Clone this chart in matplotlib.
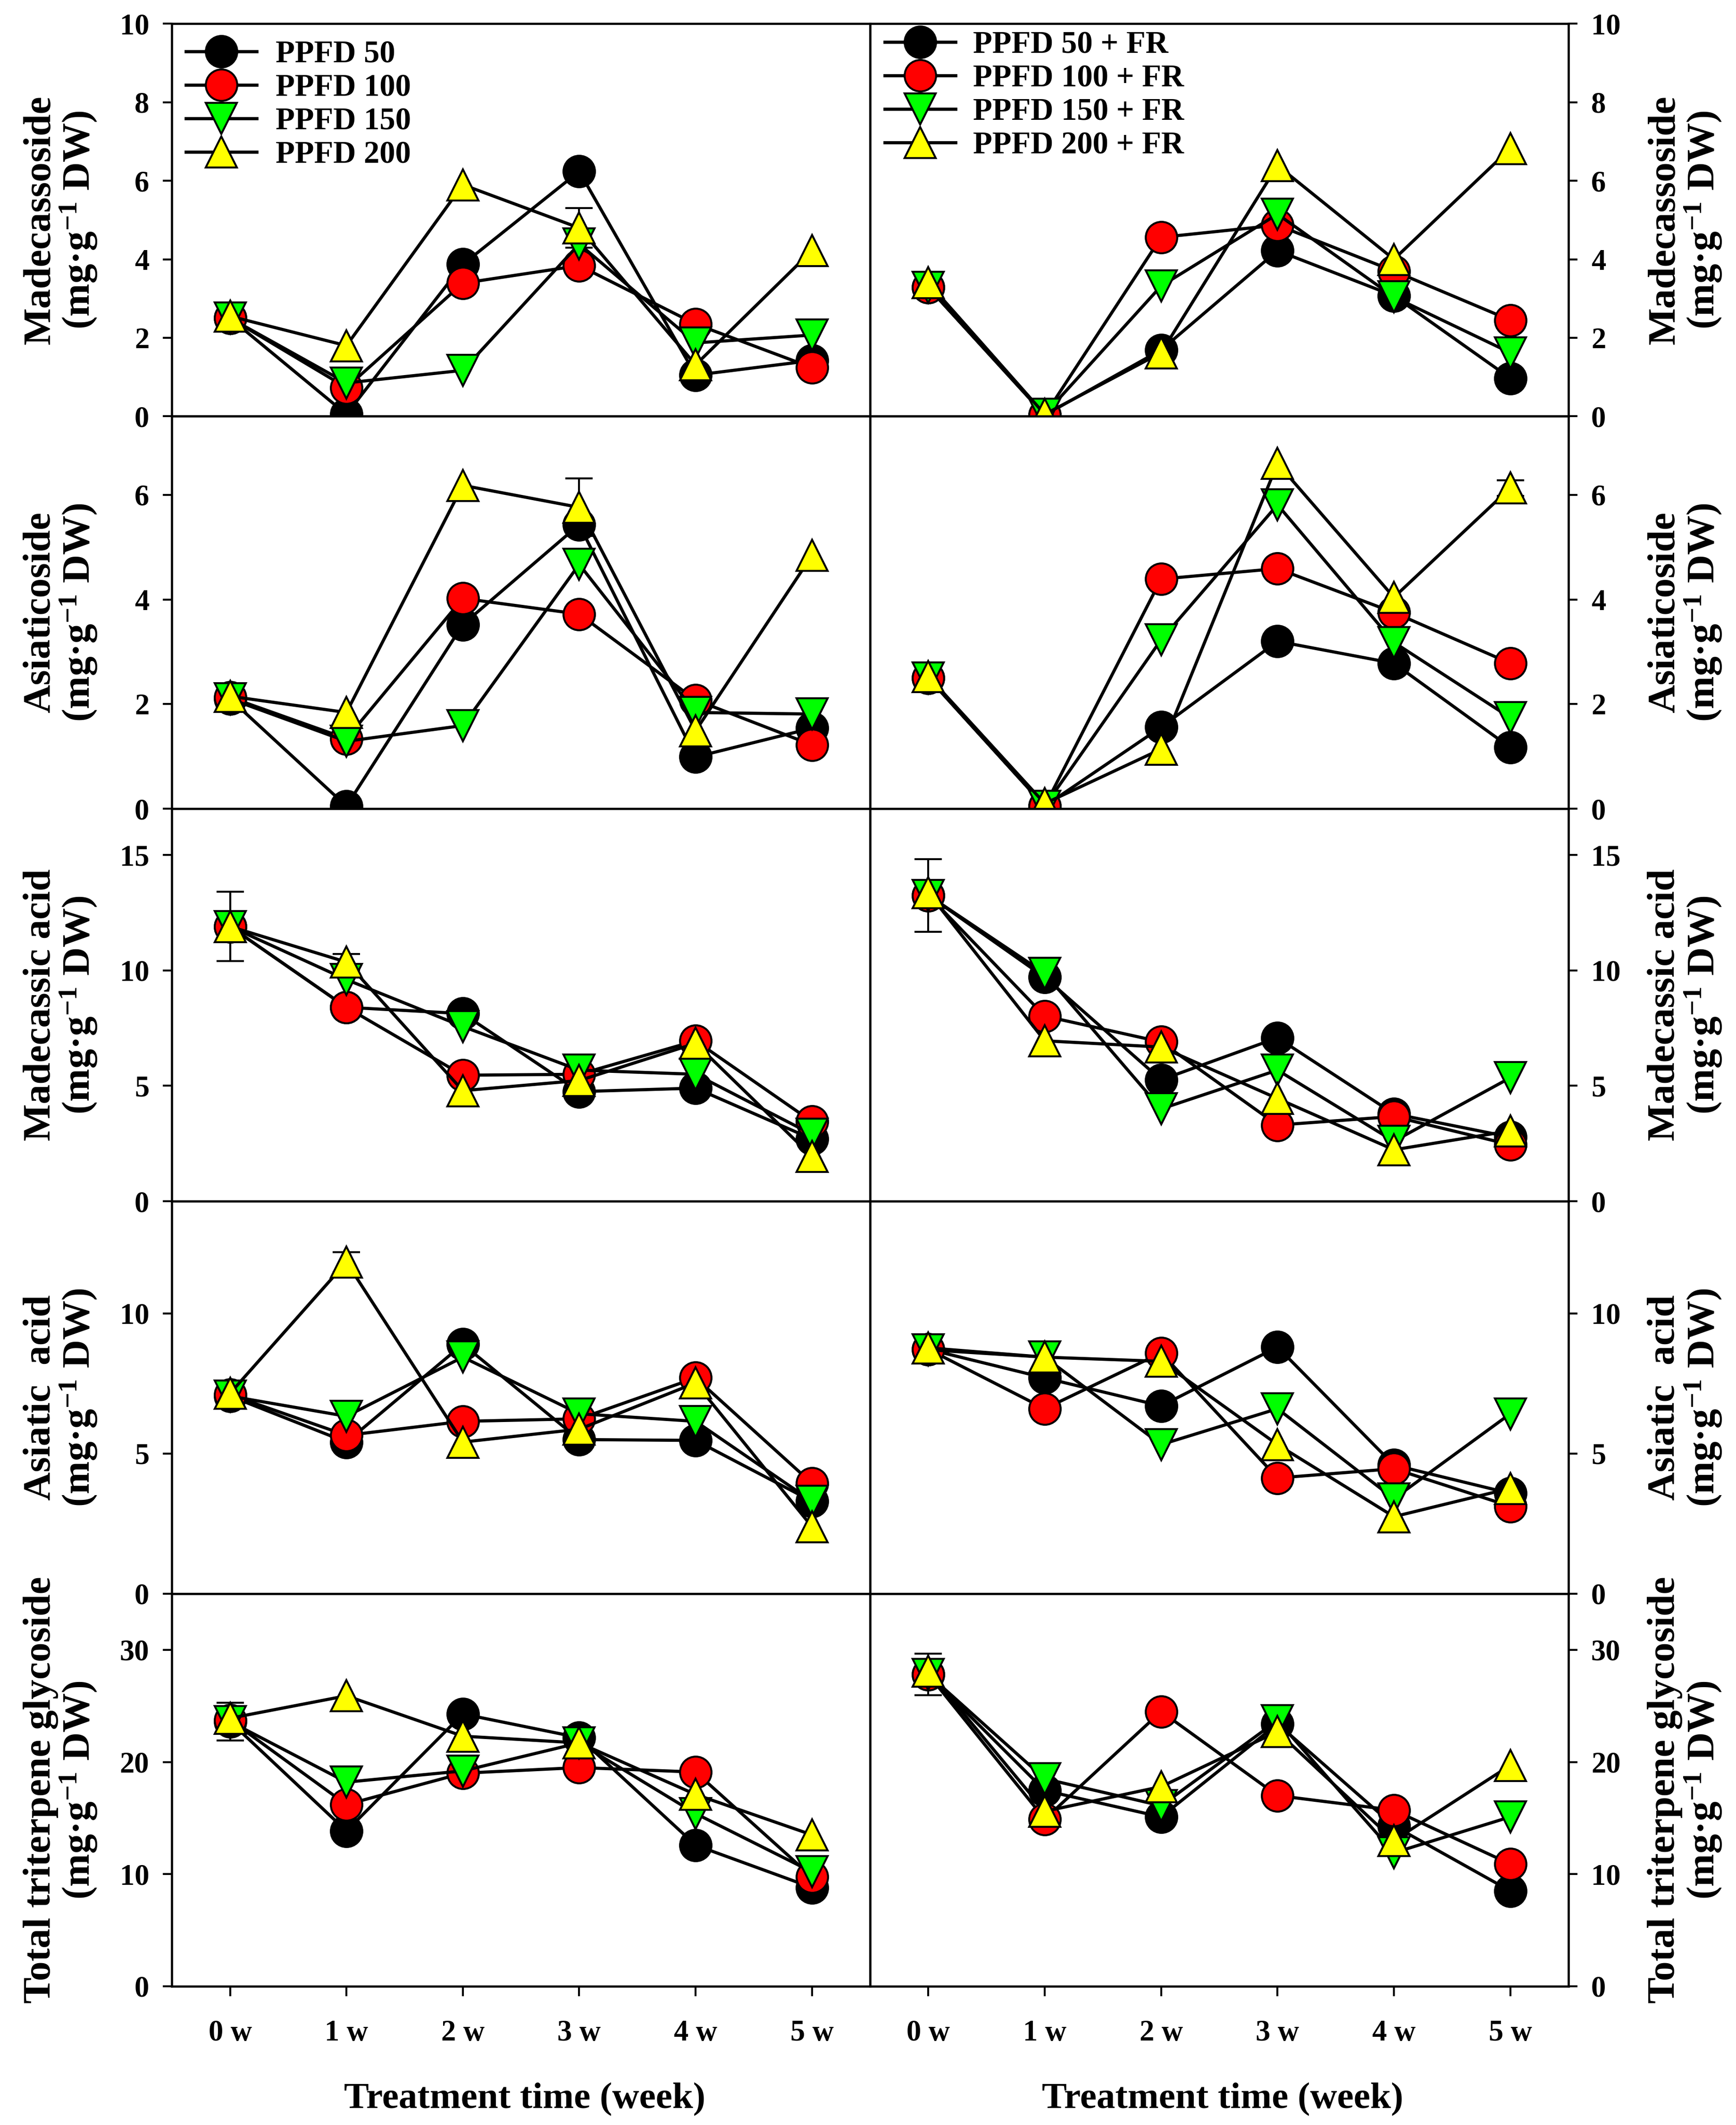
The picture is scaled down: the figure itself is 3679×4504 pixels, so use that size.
import numpy as np
import matplotlib
matplotlib.use('Agg')
import matplotlib.pyplot as plt

plt.rcParams['font.family'] = ['Liberation Serif', 'DejaVu Serif']
plt.rcParams['font.weight'] = 'bold'
plt.rcParams['mathtext.fontset'] = 'custom'
plt.rcParams['mathtext.rm'] = 'Liberation Serif:bold'
plt.rcParams['mathtext.it'] = 'Liberation Serif:bold'
plt.rcParams['mathtext.bf'] = 'Liberation Serif:bold'

weeks = [0, 1, 2, 3, 4, 5]
week_labels = ['0 w', '1 w', '2 w', '3 w', '4 w', '5 w']
labels_L = ['PPFD 50', 'PPFD 100', 'PPFD 150', 'PPFD 200']
labels_R = ['PPFD 50 + FR', 'PPFD 100 + FR', 'PPFD 150 + FR', 'PPFD 200 + FR']

# each list: PPFD 50, 100, 150, 200
madecassoside_L = [[2.5, 0.05, 3.87, 6.24, 1.05, 1.42],
                   [2.5, 0.73, 3.39, 3.84, 2.35, 1.24],
                   [2.5, 0.85, 1.17, 4.39, 1.87, 2.07],
                   [2.55, 1.8, 5.9, 4.8, 1.31, 4.22]]
madecassoside_R = [[3.28, 0.03, 1.69, 4.22, 3.07, 0.97],
                   [3.28, 0.03, 4.56, 4.87, 3.7, 2.45],
                   [3.28, 0.05, 3.32, 5.15, 3.04, 1.62],
                   [3.4, 0.05, 1.62, 6.39, 4.0, 6.82]]
asiaticoside_L = [[2.1, 0.05, 3.52, 5.43, 0.99, 1.54],
                  [2.13, 1.34, 4.02, 3.72, 2.08, 1.22],
                  [2.1, 1.29, 1.59, 4.67, 1.84, 1.81],
                  [2.15, 1.84, 6.18, 5.76, 1.49, 4.84]]
asiaticoside_R = [[2.5, 0.05, 1.56, 3.2, 2.78, 1.17],
                  [2.5, 0.05, 4.39, 4.59, 3.75, 2.78],
                  [2.5, 0.05, 3.23, 5.81, 3.18, 1.74],
                  [2.53, 0.1, 1.14, 6.6, 4.04, 6.13]]
madecassic_L = [[11.9, 8.4, 8.13, 4.75, 4.9, 2.7],
                [11.9, 8.4, 5.46, 5.5, 6.95, 3.45],
                [11.9, 9.6, 7.57, 5.68, 5.5, 2.9],
                [11.9, 10.36, 4.79, 5.23, 6.84, 1.94]]
madecassic_R = [[13.25, 9.7, 5.26, 7.08, 3.79, 2.78],
                [13.25, 8.02, 6.9, 3.3, 3.67, 2.45],
                [13.25, 9.87, 4.0, 5.68, 2.6, 5.35],
                [13.36, 6.95, 6.68, 4.45, 2.23, 3.05]]
asiatic_L = [[7.05, 5.41, 8.9, 5.5, 5.47, 3.3],
             [7.1, 5.65, 6.15, 6.24, 7.7, 3.94],
             [7.05, 6.33, 8.44, 6.42, 6.15, 3.3],
             [7.15, 11.83, 5.41, 5.87, 7.52, 2.39]]
asiatic_R = [[8.72, 7.7, 6.7, 8.8, 4.59, 3.58],
             [8.72, 6.6, 8.59, 4.13, 4.46, 3.12],
             [8.7, 8.44, 5.32, 6.6, 3.39, 6.42],
             [8.77, 8.44, 8.29, 5.32, 2.75, 3.76]]
total_L = [[23.6, 13.84, 24.28, 22.17, 12.58, 8.8],
           [23.74, 16.2, 19.0, 19.5, 19.1, 9.75],
           [23.6, 18.2, 19.2, 21.7, 15.4, 10.2],
           [23.9, 25.9, 22.3, 21.7, 17.1, 13.5]]
total_R = [[27.8, 17.45, 15.1, 23.4, 14.3, 8.5],
           [27.8, 14.9, 24.5, 17.0, 15.7, 10.9],
           [27.8, 18.5, 16.1, 23.7, 11.9, 15.1],
           [28.1, 15.6, 17.8, 22.7, 13.0, 19.7]]

# standard errors (only the visible ones)
madecassoside_L_err = [[0, 0, 0, 0, 0, 0], [0, 0, 0, 0, 0, 0],
                       [0, 0, 0, 0, 0, 0], [0, 0, 0, 0.5, 0, 0]]
madecassoside_R_err = [[0, 0, 0, 0, 0, 0], [0, 0, 0, 0, 0, 0],
                       [0, 0, 0, 0, 0, 0], [0, 0, 0, 0, 0, 0]]
asiaticoside_L_err = [[0, 0, 0, 0, 0, 0], [0, 0, 0, 0, 0, 0],
                      [0, 0, 0, 0, 0, 0], [0, 0, 0, 0.55, 0, 0]]
asiaticoside_R_err = [[0, 0, 0, 0, 0, 0], [0, 0, 0, 0, 0, 0],
                      [0, 0, 0, 0, 0, 0], [0, 0, 0, 0, 0, 0.15]]
madecassic_L_err = [[1.5, 0, 0, 0, 0, 0], [0, 0, 0, 0, 0, 0],
                    [0, 0, 0, 0, 0, 0], [0, 0.35, 0, 0, 0, 0]]
madecassic_R_err = [[1.57, 0, 0, 0, 0, 0], [0, 0, 0, 0, 0, 0],
                    [0, 0, 0, 0, 0, 0], [0, 0, 0, 0, 0, 0]]
asiatic_L_err = [[0, 0, 0, 0, 0, 0], [0, 0, 0, 0, 0, 0],
                 [0, 0, 0, 0, 0, 0], [0, 0.35, 0, 0, 0, 0]]
asiatic_R_err = [[0, 0, 0, 0, 0, 0], [0, 0, 0, 0, 0, 0],
                 [0, 0, 0, 0, 0, 0], [0, 0, 0, 0, 0, 0]]
total_L_err = [[1.7, 0, 0, 0.8, 0, 0], [0, 0, 0, 0, 0, 0],
               [0, 0, 0, 0, 0, 0], [0, 0, 0, 0, 0, 0]]
total_R_err = [[1.85, 0, 0, 0, 0, 0], [0, 0, 0, 0, 0, 0],
               [0, 0, 0, 0, 0, 0], [0, 0, 0, 0, 0, 0]]

ylabels = ['Madecassoside', 'Asiaticoside', 'Madecassic acid',
           'Asiatic  acid', 'Total triterpene glycoside']
ylims = [10, 7.5, 17, 14, 35]
yticks = [[0, 2, 4, 6, 8, 10], [0, 2, 4, 6], [0, 5, 10, 15],
          [0, 5, 10], [0, 10, 20, 30]]

left_data = [(madecassoside_L, madecassoside_L_err), (asiaticoside_L, asiaticoside_L_err),
             (madecassic_L, madecassic_L_err), (asiatic_L, asiatic_L_err),
             (total_L, total_L_err)]
right_data = [(madecassoside_R, madecassoside_R_err), (asiaticoside_R, asiaticoside_R_err),
              (madecassic_R, madecassic_R_err), (asiatic_R, asiatic_R_err),
              (total_R, total_R_err)]

markers = ['o', 'o', 'v', '^']
faces = ['black', '#ff0000', '#00ff00', '#ffff00']

fig, axes = plt.subplots(5, 2, figsize=(3679 / 300, 4504 / 300))
fig.subplots_adjust(left=0.099, right=0.9035, top=0.9888, bottom=0.0653,
                    hspace=0, wspace=0)

for r in range(5):
    for c in range(2):
        ax = axes[r, c]
        vals, errs = (left_data if c == 0 else right_data)[r]
        labs = labels_L if c == 0 else labels_R
        for i in range(4):
            x = np.array(weeks)
            y = np.array(vals[i])
            e = np.array(errs[i])
            m = e > 0
            if m.any():
                ax.errorbar(x[m], y[m], yerr=e[m], fmt='none', ecolor='black',
                            elinewidth=1.0, capsize=7, capthick=1.0, zorder=2)
            ax.plot(weeks, vals[i], color='black', lw=1.6, marker=markers[i],
                    ms=16, mfc=faces[i], mec='black', mew=1.0, label=labs[i],
                    zorder=3 + i)
        ax.set_xlim(-0.5, 5.5)
        ax.set_ylim(0, ylims[r])
        ax.set_yticks(yticks[r])
        for sp in ax.spines.values():
            sp.set_linewidth(1.1)
        ax.tick_params(axis='y', direction='out', length=4.5, width=1.0,
                       pad=7, labelsize=15)
        if c == 1:
            ax.yaxis.tick_right()
            ax.yaxis.set_label_position('right')
            ax.tick_params(axis='y', left=False, right=True,
                           labelleft=False, labelright=True)
        lab = ylabels[r] + '\n(mg·g$^{-1}$ DW)'
        ax.set_ylabel(lab, fontsize=20, fontweight='bold', linespacing=1.0)
        if c == 0:
            ax.yaxis.set_label_coords(-0.104, 0.5)
        else:
            ax.yaxis.set_label_coords(1.113, 0.5)
        ax.set_xticks(weeks)
        if r < 3:
            ax.tick_params(axis='x', bottom=False, labelbottom=False)
        elif r == 3:
            ax.tick_params(axis='x', direction='out', length=5, width=1.0,
                           labelbottom=False)
        else:
            ax.set_xticklabels(week_labels)
            ax.tick_params(axis='x', direction='out', length=5, width=1.0,
                           pad=12, labelsize=15)
            ax.set_xlabel('Treatment time (week)', fontsize=19, fontweight='bold')
            ax.xaxis.set_label_coords(0.505, -0.245)

axes[0, 0].legend(loc='upper left', bbox_to_anchor=(0.02, 0.958), frameon=False,
                  fontsize=16, borderpad=0, borderaxespad=0, handlelength=2.25,
                  handletextpad=0.6, labelspacing=0.15)
axes[0, 1].legend(loc='upper left', bbox_to_anchor=(0.021, 0.982), frameon=False,
                  fontsize=16, borderpad=0, borderaxespad=0, handlelength=2.25,
                  handletextpad=0.55, labelspacing=0.15)

fig.savefig('out.png', dpi=300)
